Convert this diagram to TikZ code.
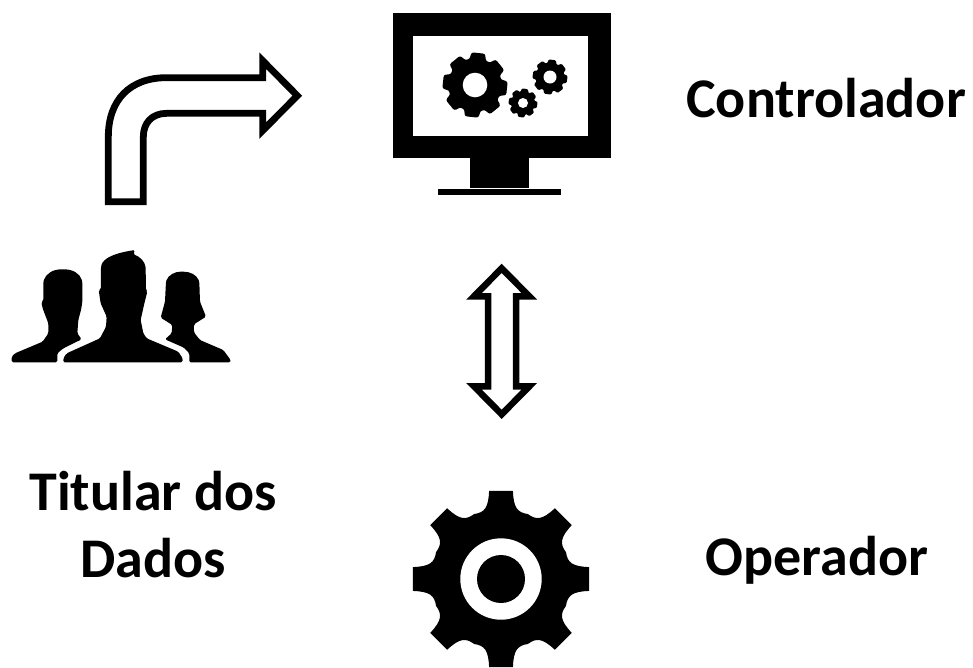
\documentclass[tikz,border=0pt]{standalone}
\usepackage{fontspec}
\setmainfont{Carlito}
\newcommand{\gearshape}[4]{% cx,cy,outer r,rotation: filled toothed outline
  \fill[shift={(#1,#2)},rotate=#4,x=#3pt,y=#3pt]
    (90-7.7:1) \foreach \t in {90,135,...,405} {
      -- (\t+7.7:1)
      .. controls (\t+10:.81) and (\t+14:.77) .. (\t+22.5:.79)
      .. controls (\t+31:.77) and (\t+35:.81) .. (\t+37.3:1)
    } -- cycle;}
\newcommand{\softgear}[5]{% cx,cy,outer r,hole r,rotation: small rounded gear
  \begin{scope}[line width=#3*0.16pt,line join=round,draw=black]
  \filldraw[shift={(#1,#2)},rotate=#5,x=#3*0.92pt,y=#3*0.92pt]
    (90-9:1) \foreach \t in {90,135,...,405} {
      -- (\t+9:1)
      .. controls (\t+13:.82) and (\t+17:.8) .. (\t+22.5:.8)
      .. controls (\t+28:.8) and (\t+32:.82) .. (\t+36:1)
    } -- cycle;
  \end{scope}
  \fill[white] (#1,#2) circle (#4pt);}
\tikzset{
  label text/.style={font=\bfseries\fontsize{56}{67}\selectfont,text=black,inner sep=0pt,align=center},
  block arrow/.style={draw=black,fill=white,line join=miter,miter limit=10},
  silhouette/.style={fill=black,rounded corners=1.5pt}
}
\begin{document}
\begin{tikzpicture}[x=1pt,y=-1pt]
\useasboundingbox[fill=white] (0,0) rectangle (973,667);
% monitor
\fill[black] (393,13) rectangle (611,158);
\fill[white] (413,36) rectangle (588,136);
\fill[black] (470,158) rectangle (529,188);
\fill[black] (438,189) rectangle (561,195);
\softgear{475}{85}{32.5}{12.3}{-6}
\softgear{550}{77}{17.5}{6.5}{-8}
\softgear{523}{103}{14.5}{5}{-8}
% bent arrow
\begin{scope}[shift={(90,40)},x=0.3333pt,y=-0.3333pt]
\draw[block arrow,line width=6.8pt]
  (55,485) -- (55,290) .. controls (55,180) and (120,113) .. (230,113)
  -- (518,113) -- (518,62) -- (622,167) -- (518,272) -- (518,220) -- (230,220)
  .. controls (185,220) and (160,250) .. (160,290) -- (160,485) -- cycle;
\end{scope}
% double arrow
\begin{scope}[shift={(450,250)},x=0.3333pt,y=-0.3333pt]
\draw[block arrow,line width=6.5pt]
  (155,55) -- (238,139) -- (198,139) -- (198,409) -- (238,409) -- (155,493)
  -- (72,409) -- (114,409) -- (114,139) -- (72,139) -- cycle;
\end{scope}
% people
\begin{scope}[shift={(0,240)},x=0.3333pt,y=-0.3333pt]
\fill[silhouette] (190,367) -- (190,355) -- (200,340) -- (300,295) -- (318,260) -- (320,230)
  -- (302,190) -- (296,150) -- (303,148) -- (303,80) .. controls (310,55) and (340,40) .. (405,30)
  -- (400,43) .. controls (420,50) and (435,65) .. (437,85) -- (438,150) -- (442,155)
  -- (432,195) -- (422,240) -- (430,280) -- (440,295) -- (535,335) -- (548,355) -- (548,367) -- cycle;
\fill[silhouette] (35,367) -- (35,350) -- (45,340) -- (128,305) -- (145,280) -- (145,250)
  -- (128,205) -- (124,187) -- (130,182) -- (130,125) .. controls (138,100) and (160,88) .. (188,88)
  .. controls (218,88) and (240,100) .. (247,125) -- (247,187) -- (243,210) -- (235,240)
  -- (232,280) -- (245,298) -- (190,325) -- (172,340) -- (172,367) -- cycle;
\fill[silhouette] (568,367) -- (568,340) -- (552,323) -- (495,298) -- (515,280) -- (517,255)
  -- (482,233) -- (495,185) -- (498,125) .. controls (505,105) and (525,95) .. (546,95)
  .. controls (572,95) and (590,105) .. (598,125) -- (600,185) -- (618,230) -- (582,253)
  -- (582,277) -- (600,300) -- (670,330) -- (692,360) -- (692,367) -- cycle;
\end{scope}
% big gear
\gearshape{501}{579}{89}{0}
\fill[white] (501,579) circle (40.7pt);
\fill[black] (501,579) circle (24pt);
% labels
\node[label text] (controlador) at (826,98) {Controlador};
\node[label text] (titular) at (153,525) {Titular dos\\Dados};
\node[label text] (operador) at (817,560) {Operador};
\end{tikzpicture}
\end{document}
